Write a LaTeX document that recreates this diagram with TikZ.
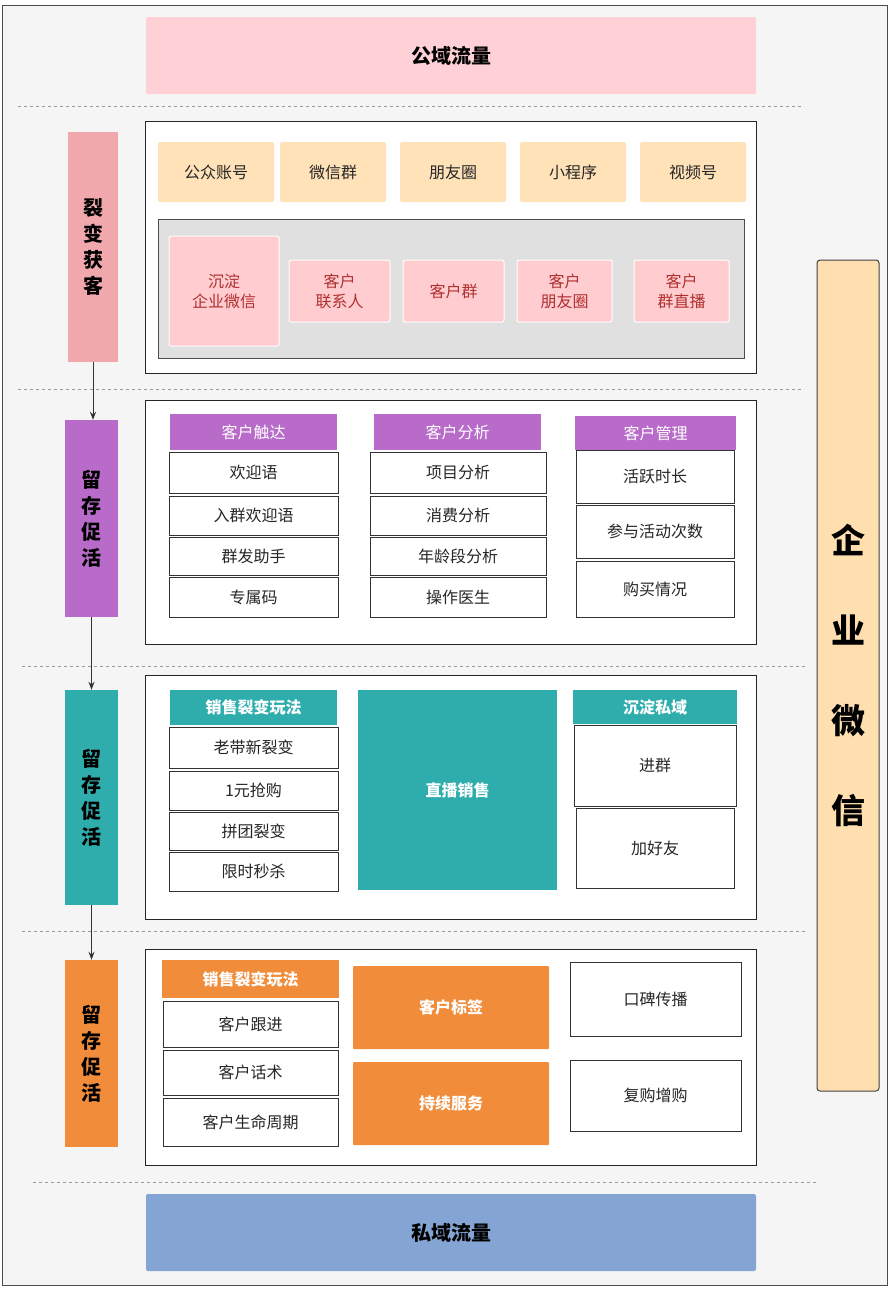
\documentclass[tikz,border=0pt]{standalone}
\usepackage{fontspec}
\setmainfont{Noto Sans CJK SC}
\usetikzlibrary{arrows.meta}
\definecolor{pinkA}{HTML}{FFD0D5}
\definecolor{sideA}{HTML}{F0A8AC}
\definecolor{peach}{HTML}{FFE2B8}
\definecolor{grayb}{HTML}{E0E0E0}
\definecolor{pinkB}{HTML}{FFCCD0}
\definecolor{darkred}{HTML}{B03030}
\definecolor{purp}{HTML}{B86BC9}
\definecolor{teal}{HTML}{2FADAD}
\definecolor{orng}{HTML}{F08C3A}
\definecolor{blu}{HTML}{84A5D4}
\definecolor{qy}{HTML}{FFDFB0}
\newcommand\R[7]{\node[#6, minimum width={(#4-#2)*1pt}, minimum height={(#5-#3)*1pt}, inner sep=0pt, align=center] (#1) at ({(#2+#4)/2},{(#3+#5)/2}) {#7};}
\tikzset{
  txt/.style={font=\fontsize{16}{20}\selectfont, text=black!85},
  cell/.style={txt, draw=black!80, line width=0.9pt, fill=white},
  frame/.style={draw=black!85, line width=1pt, fill=white},
  peachbox/.style={txt, fill=peach, rounded corners=2pt},
  pinkbox/.style={font=\fontsize{16}{20}\selectfont, text=darkred, fill=pinkB, draw=white, line width=1pt, rounded corners=2pt},
  hdr/.style={font=\fontsize{16}{20}\selectfont, text=white, fill=#1},
  bhdr/.style={font=\bfseries\fontsize{16}{20}\selectfont, text=white, fill=#1},
  side/.style={font=\bfseries\fontsize{20}{26}\selectfont, text=black, fill=#1},
  sep/.style={dashed, draw=black!40, line width=0.7pt},
  arr/.style={-{Stealth[length=8pt,width=6pt]}, draw=black!80, line width=1pt}
}
\begin{document}
\begin{tikzpicture}[x=1pt,y=-1pt]
\useasboundingbox (0,0) rectangle (891,1293);
\fill[white] (0,0) rectangle (891,1293);
\draw[fill=black!4, draw=black!70, line width=1pt] (2,5) rectangle (887,1285);
\R{gy}{146}{17}{756}{94}{font=\bfseries\fontsize{20}{24}\selectfont, fill=pinkA, rounded corners=2pt}{公域流量}
\draw[sep] (18,106) -- (804,106);
% section 1
\R{s1}{68}{132}{118}{362}{side=sideA}{裂\\变\\获\\客}
\R{b1}{145}{121}{756}{373}{frame}{}
\R{p1}{158}{142}{274}{202}{peachbox}{公众账号}
\R{p2}{280}{142}{386}{202}{peachbox}{微信群}
\R{p3}{400}{142}{506}{202}{peachbox}{朋友圈}
\R{p4}{520}{142}{626}{202}{peachbox}{小程序}
\R{p5}{640}{142}{746}{202}{peachbox}{视频号}
\R{g1}{158}{219}{744}{358}{fill=grayb, draw=black!70, line width=0.8pt}{}
\R{k1}{169}{236}{279}{346}{pinkbox}{沉淀\\企业微信}
\R{k2}{289}{260}{390}{322}{pinkbox}{客户\\联系人}
\R{k3}{403}{260}{504}{322}{pinkbox}{客户群}
\R{k4}{517}{260}{612}{322}{pinkbox}{客户\\朋友圈}
\R{k5}{634}{260}{729}{322}{pinkbox}{客户\\群直播}
\draw[sep] (18,389) -- (804,389);
% section 2
\R{s2}{65}{420}{118}{617}{side=purp}{留\\存\\促\\活}
\draw[arr] (s1.south) -- (s1.south |- s2.north);
\R{b2}{145}{400}{756}{644}{frame}{}
\R{h21}{170}{414}{337}{450}{hdr=purp}{客户触达}
\R{h22}{374}{414}{541}{450}{hdr=purp}{客户分析}
\R{h23}{575}{416}{736}{450}{hdr=purp}{客户管理}
\R{c11}{169}{452}{338}{493}{cell}{欢迎语}
\R{c12}{169}{496}{338}{535}{cell}{入群欢迎语}
\R{c13}{169}{537}{338}{575}{cell}{群发助手}
\R{c14}{169}{577}{338}{617}{cell}{专属码}
\R{c21}{370}{452}{546}{493}{cell}{项目分析}
\R{c22}{370}{496}{546}{535}{cell}{消费分析}
\R{c23}{370}{537}{546}{575}{cell}{年龄段分析}
\R{c24}{370}{577}{546}{617}{cell}{操作医生}
\R{c31}{576}{450}{734}{503}{cell}{活跃时长}
\R{c32}{576}{505}{734}{558}{cell}{参与活动次数}
\R{c33}{576}{561}{734}{617}{cell}{购买情况}
\draw[sep] (22,666) -- (808,666);
% section 3
\R{s3}{65}{690}{118}{905}{side=teal}{留\\存\\促\\活}
\draw[arr] (s2.south) -- (s3.north);
\R{b3}{145}{675}{756}{919}{frame}{}
\R{h31}{170}{690}{337}{725}{bhdr=teal}{销售裂变玩法}
\R{zb}{358}{690}{557}{890}{bhdr=teal}{直播销售}
\R{h32}{573}{690}{737}{724}{bhdr=teal}{沉淀私域}
\R{d11}{169}{727}{338}{768}{cell}{老带新裂变}
\R{d12}{169}{771}{338}{810}{cell}{1元抢购}
\R{d13}{169}{812}{338}{850}{cell}{拼团裂变}
\R{d14}{169}{852}{338}{891}{cell}{限时秒杀}
\R{d21}{574}{725}{736}{806}{cell}{进群}
\R{d22}{576}{808}{734}{888}{cell}{加好友}
\draw[sep] (22,931) -- (808,931);
% section 4
\R{s4}{65}{960}{118}{1147}{side=orng}{留\\存\\促\\活}
\draw[arr] (s3.south) -- (s4.north);
\R{b4}{145}{949}{756}{1165}{frame}{}
\R{h41}{162}{960}{339}{998}{bhdr=orng}{销售裂变玩法}
\R{e11}{163}{1001}{338}{1047}{cell}{客户跟进}
\R{e12}{163}{1050}{338}{1095}{cell}{客户话术}
\R{e13}{163}{1098}{338}{1146}{cell}{客户生命周期}
\R{bq}{353}{966}{549}{1049}{bhdr=orng, rounded corners=1pt}{客户标签}
\R{cx}{353}{1062}{549}{1145}{bhdr=orng, rounded corners=1pt}{持续服务}
\R{f1}{570}{962}{741}{1036}{cell}{口碑传播}
\R{f2}{570}{1060}{741}{1131}{cell}{复购增购}
\draw[sep] (33,1182) -- (817,1182);
\R{sy}{146}{1194}{756}{1271}{font=\bfseries\fontsize{20}{24}\selectfont, fill=blu, rounded corners=2pt}{私域流量}
\R{qw}{817}{260}{879}{1091}{font=\bfseries\fontsize{34}{90}\selectfont, fill=qy, draw=black!75, line width=1pt, rounded corners=3pt}{企\\业\\微\\信}
\end{tikzpicture}
\end{document}
